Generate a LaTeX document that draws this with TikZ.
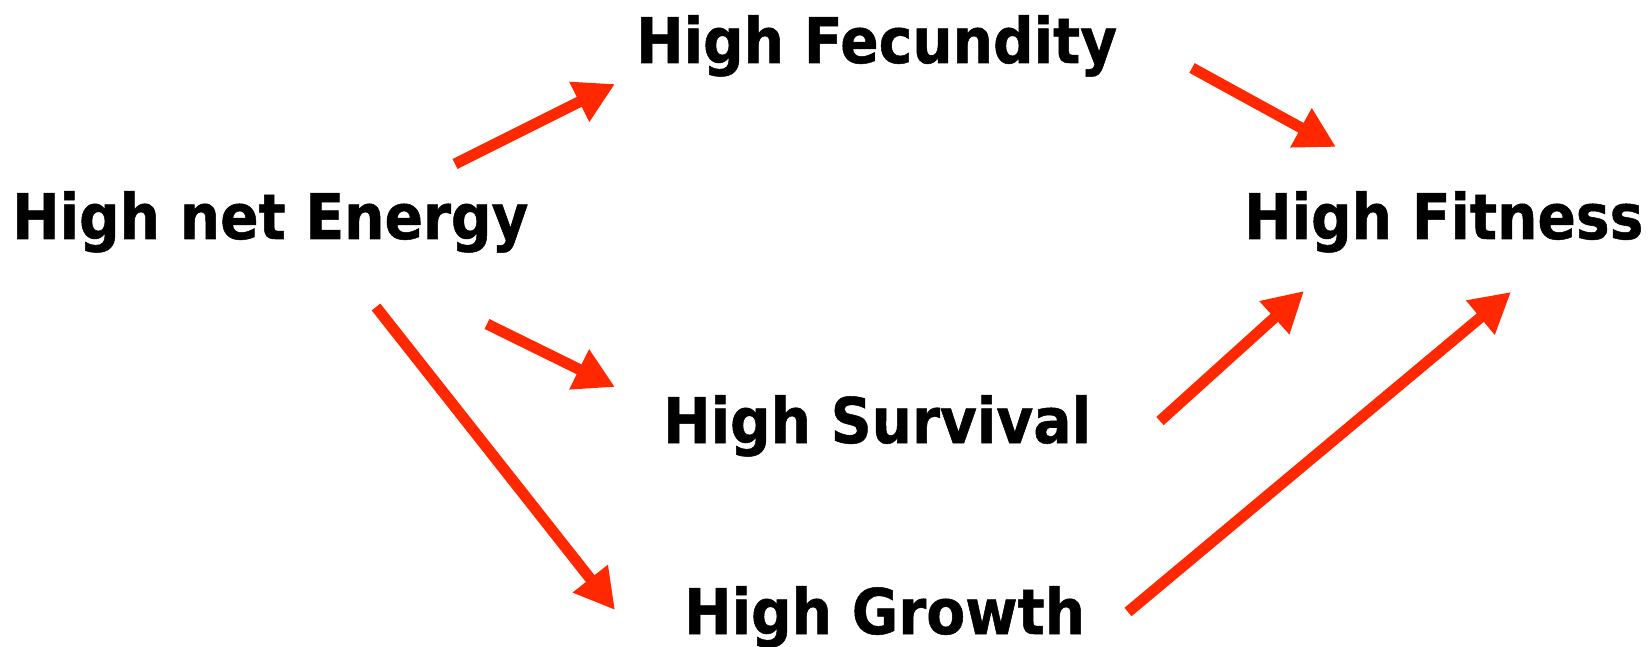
\documentclass[tikz,border=0pt]{standalone}
\usepackage{fontspec}
\setmainfont{DejaVu Sans}[BoldFont={DejaVu Sans Bold}, BoldFeatures={FakeStretch=0.90, FakeBold=0.8}]
\usetikzlibrary{arrows.meta}
\definecolor{arrowred}{RGB}{255,40,0}
\tikzset{
  label/.style={font=\fontsize{63}{70}\selectfont\bfseries, inner sep=0pt, anchor=base west},
  link/.style={draw=arrowred, line width=11pt, -{Triangle[length=40pt,width=42pt]}},
}
\begin{document}
\begin{tikzpicture}[x=1pt,y=-1pt]
\useasboundingbox (0,0) rectangle (1649,647);
% labels
\node[label] (energy)    at (12,239)   {High net Energy};
\node[label] (fecundity) at (636,63)   {High Fecundity};
\node[label] (fitness)   at (1244,239) {High Fitness};
\node[label] (survival)  at (663,443)  {High Survival};
\node[label] (growth)    at (684,634)  {High Growth};
% arrow end points
\coordinate (e1) at (455,164);  \coordinate (f1) at (615,84);
\coordinate (f2) at (1192,68);  \coordinate (t2) at (1336,147);
\coordinate (e3) at (487,324);  \coordinate (s3) at (615,387);
\coordinate (e4) at (376,307);  \coordinate (g4) at (615,610);
\coordinate (s5) at (1160,421); \coordinate (t5) at (1304,291);
\coordinate (g6) at (1128,612); \coordinate (t6) at (1511,292);
% arrows
\draw[link] (e1) -- (f1);
\draw[link] (f2) -- (t2);
\draw[link] (e3) -- (s3);
\draw[link] (e4) -- (g4);
\draw[link] (s5) -- (t5);
\draw[link] (g6) -- (t6);
\end{tikzpicture}
\end{document}
